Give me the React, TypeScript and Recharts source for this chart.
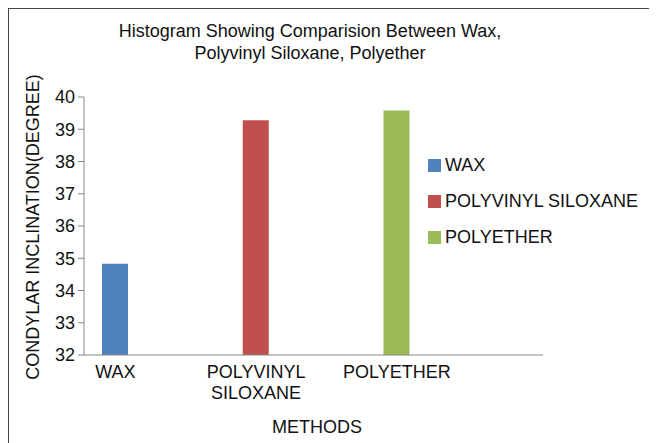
import React from "react";
import { Bar, BarChart, Legend, XAxis, YAxis } from "recharts";

// the original sheet has a fourth, empty category, which stretches the x axis
const categories = ["WAX", "POLYVINYL SILOXANE", "POLYETHER", ""];
const waxValues = [34.83, null, null, null];
const pvsValues = [null, 39.28, null, null];
const polyetherValues = [null, null, 39.58, null];
const yTicks = [32, 33, 34, 35, 36, 37, 38, 39, 40];

const FONT = '"Liberation Sans", Arial, sans-serif';
const BAR_SIZE = 26;

const series = [
  { key: "wax", name: "WAX", color: "#4F81BD" },
  { key: "pvs", name: "POLYVINYL SILOXANE", color: "#C0504D" },
  { key: "polyether", name: "POLYETHER", color: "#9BBB59" },
];

const data = categories.map((name, i) => ({
  name,
  wax: waxValues[i],
  pvs: pvsValues[i],
  polyether: polyetherValues[i],
}));

// labels sit under each series' own bar, like the original
const CategoryTick = (props: any) => {
  const { x, y, payload, index } = props;
  if (!payload.value) return null;
  const lines = String(payload.value).split(" ");
  const cx = x + (index - 1) * BAR_SIZE;
  return (
    <text x={cx} y={y + 23} textAnchor="middle" fontSize={18} fill="#111" fontFamily={FONT}>
      {lines.map((line, i) => (
        <tspan key={line} x={cx} dy={i === 0 ? 0 : 21}>
          {line}
        </tspan>
      ))}
    </text>
  );
};

// keep series order (wax first) regardless of payload order
const LegendContent = () => (
  <div style={{ fontFamily: FONT, fontSize: 18, color: "#111" }}>
    {series.map((s) => (
      <div key={s.key} style={{ display: "flex", alignItems: "center", height: 36 }}>
        <span
          style={{ width: 13, height: 13, background: s.color, marginRight: 4, display: "inline-block" }}
        />
        {s.name}
      </div>
    ))}
  </div>
);

export default function App() {
  return (
    <div
      style={{
        position: "relative",
        width: 643,
        height: 440,
        border: "1px solid #444",
        background: "#fff",
        fontFamily: FONT,
      }}
    >
      <div
        style={{
          position: "absolute",
          left: 0,
          width: 602,
          top: 11,
          textAlign: "center",
          fontSize: 18,
          lineHeight: "22px",
          color: "#111",
        }}
      >
        Histogram Showing Comparision Between Wax,
        <br />
        Polyvinyl Siloxane, Polyether
      </div>
      <div
        style={{
          position: "absolute",
          left: 24,
          top: 218,
          width: 0,
          height: 0,
        }}
      >
        <div
          style={{
            position: "absolute",
            transform: "translate(-50%, -50%) rotate(-90deg)",
            whiteSpace: "nowrap",
            fontSize: 18,
            color: "#111",
          }}
        >
          CONDYLAR INCLINATION(DEGREE)
        </div>
      </div>
      <div
        style={{
          position: "absolute",
          left: 308,
          top: 408,
          transform: "translateX(-50%)",
          fontSize: 18,
          color: "#111",
          whiteSpace: "nowrap",
        }}
      >
        METHODS
      </div>
      <BarChart
        width={643}
        height={440}
        data={data}
        barSize={BAR_SIZE}
        barGap={0}
        margin={{ top: 88, right: 109, left: 30, bottom: 34 }}
      >
        <XAxis
          dataKey="name"
          height={60}
          axisLine={{ stroke: "#868686" }}
          tickLine={false}
          tickSize={0}
          tickMargin={0}
          interval={0}
          tick={<CategoryTick />}
        />
        <YAxis
          width={45}
          domain={[32, 40]}
          ticks={yTicks}
          interval={0}
          axisLine={{ stroke: "#868686" }}
          tickLine={{ stroke: "#868686" }}
          tickSize={6}
          tickMargin={3}
          tick={{ fontSize: 18, fill: "#111", fontFamily: FONT }}
        />
        <Legend
          layout="horizontal"
          align="center"
          verticalAlign="middle"
          content={<LegendContent />}
          wrapperStyle={{ position: "absolute", left: 419, top: 138, width: 220 }}
        />
        {series.map((s) => (
          <Bar key={s.key} dataKey={s.key} name={s.name} fill={s.color} isAnimationActive={false} />
        ))}
      </BarChart>
    </div>
  );
}
